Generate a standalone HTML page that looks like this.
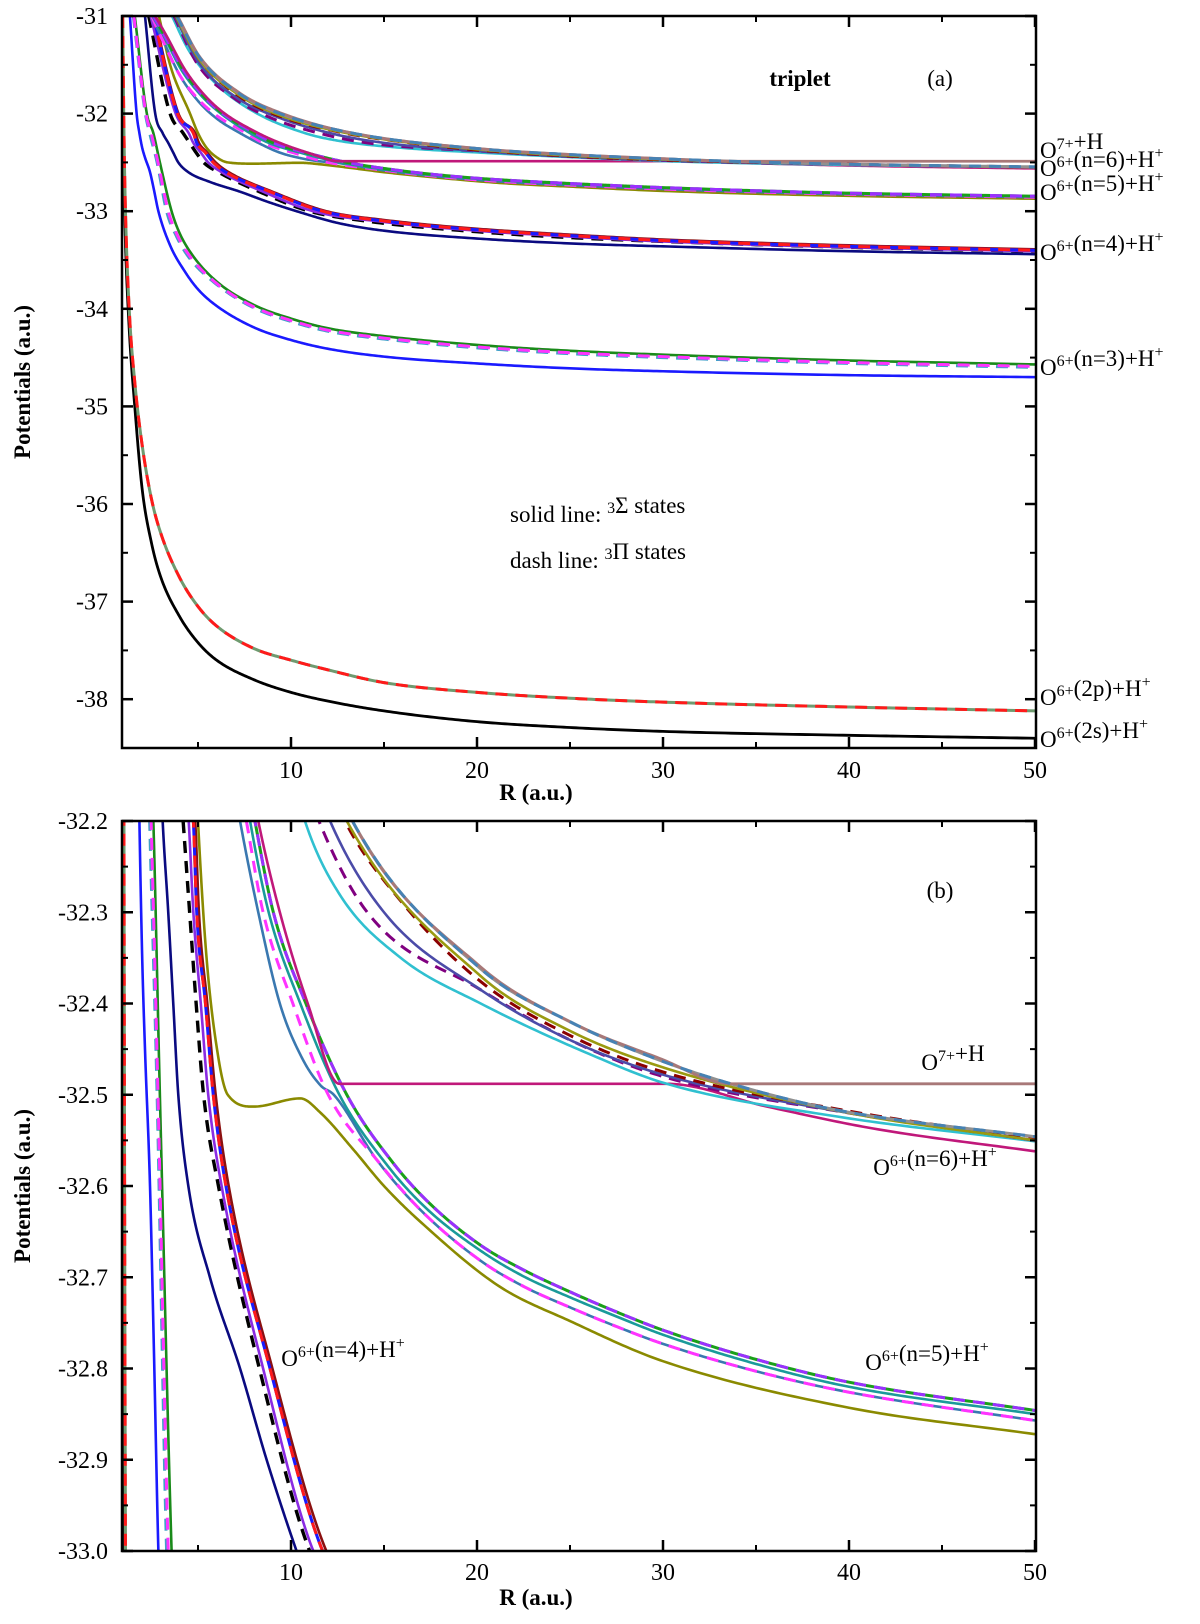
<!DOCTYPE html>
<html><head><meta charset="utf-8">
<style>
html,body{margin:0;padding:0;background:#fff;width:1200px;height:1624px;overflow:hidden;}
svg{display:block;font-family:"Liberation Serif",serif;}
.tick{font-size:24px;fill:#000;}
.lab{font-size:23px;fill:#000;}
.ttl{font-size:23px;font-weight:bold;fill:#000;}
</style></head>
<body>
<svg id="chart" width="1200" height="1624" viewBox="0 0 1200 1624" xmlns="http://www.w3.org/2000/svg">
<defs>
<clipPath id="clipA"><rect x="122" y="16" width="914" height="732"/></clipPath>
<clipPath id="clipB"><rect x="122" y="821" width="914" height="730"/></clipPath>
</defs>
<g id="panelA"></g>
<g id="panelB"></g>
</svg>
<script>
// ---------- data (R in a.u., V in a.u.) ----------
const r2s=[0.93,1.0,1.08,1.3,1.6,2,2.5,3,4,5,6,8,10,12,15,20,25,30,40,50];
const v2s=[-31,-32.5,-33.2,-34.2,-35.0,-35.85,-36.4,-36.75,-37.15,-37.42,-37.6,-37.8,-37.93,-38.02,-38.12,-38.23,-38.29,-38.33,-38.37,-38.40];
const r2p=[0.95,1.02,1.1,1.3,1.6,2,2.5,3,4,5,6,8,10,12,15,20,25,30,40,50];
const v2p=[-31,-32.2,-33.0,-34.0,-34.75,-35.4,-35.95,-36.3,-36.75,-37.05,-37.25,-37.48,-37.6,-37.7,-37.83,-37.93,-37.99,-38.03,-38.08,-38.12];
const rN3Blue=[1.34,1.7,1.85,2.0,2.15,2.42,2.63,2.87,3.5,4.3,5,6,8,10,12,15,20,25,30,40,50];
const vN3Blue=[-31,-32,-32.2,-32.35,-32.45,-32.6,-32.78,-33,-33.35,-33.62,-33.8,-33.97,-34.19,-34.32,-34.41,-34.49,-34.56,-34.61,-34.64,-34.68,-34.70];
const rN3Green=[1.6,2.25,2.6,2.95,3.58,4.0,4.7,6,8,10,12,15,20,25,30,40,50];
const vN3Green=[-31,-32,-32.2,-32.5,-33,-33.22,-33.45,-33.72,-33.96,-34.1,-34.2,-34.28,-34.37,-34.43,-34.47,-34.53,-34.57];
const rN3Mag=[1.55,2.2,2.48,2.85,3.4,3.9,4.6,6,8,10,12,15,20,25,30,40,50];
const vN3Mag=[-31,-32,-32.2,-32.5,-33,-33.25,-33.47,-33.74,-33.98,-34.12,-34.22,-34.3,-34.39,-34.45,-34.49,-34.55,-34.59];
const rN3Cyan=[1.52,2.17,2.4,2.8,3.31,3.85,4.5,6,8,10,12,15,20,25,30,40,50];
const vN3Cyan=[-31,-32,-32.2,-32.5,-33,-33.26,-33.47,-33.75,-33.99,-34.13,-34.23,-34.31,-34.4,-34.46,-34.5,-34.56,-34.6];
const rN4Navy=[2.15,2.7,3.1,3.4,3.67,3.94,4.48,5.64,7.26,8.69,10.3,12.5,15,20,25,30,40,50];
const vN4Navy=[-31,-32,-32.2,-32.3,-32.4,-32.5,-32.6,-32.7,-32.8,-32.9,-33.0,-33.12,-33.2,-33.28,-33.33,-33.36,-33.41,-33.44];
const rN4Black=[2.35,3.5,4.2,4.55,4.9,5.3,6.1,8.3,11.0,14,20,25,30,40,50];
const vN4Black=[-31,-32,-32.2,-32.3,-32.4,-32.5,-32.6,-32.8,-33.0,-33.1,-33.21,-33.27,-33.31,-33.37,-33.41];
const rN4Red=[2.6,3.9,4.75,4.93,5.4,5.82,6.5,8.87,11.7,15,20,25,30,40,50];
const vN4Red=[-31,-32,-32.2,-32.3,-32.4,-32.5,-32.6,-32.8,-33.0,-33.1,-33.19,-33.25,-33.3,-33.36,-33.40];
const rN4Purple=[2.45,3.8,4.5,4.75,5.15,5.55,6.27,8.5,11.2,15,20,25,30,40,50];
const vN4Purple=[-31,-32,-32.2,-32.3,-32.4,-32.5,-32.6,-32.8,-33.0,-33.11,-33.2,-33.26,-33.31,-33.37,-33.41];
const rN4DarkRed=[2.65,3.95,4.85,5.05,5.5,5.95,6.65,9.0,11.9,15,20,25,30,40,50];
const vN4DarkRed=[-31,-32,-32.2,-32.3,-32.4,-32.5,-32.6,-32.8,-33.0,-33.09,-33.18,-33.24,-33.29,-33.35,-33.39];
const rOlive=[2.9,3.5,4.57,5.0,5.46,6.1,6.6,8.0,10.5,11.6,13.35,15,17,21.2,25,30,40,50];
const vOlive=[-31,-31.5,-32,-32.2,-32.35,-32.46,-32.5,-32.513,-32.504,-32.52,-32.56,-32.6,-32.64,-32.71,-32.748,-32.792,-32.843,-32.872];
const rN5Top=[2.6,3.2,4.2,5.2,6.2,8.06,9.05,10.8,13.0,15.5,17.5,20.2,22.5,25,27.5,30,35,40,50];
const vN5Top=[-31,-31.2,-31.55,-31.8,-31.98,-32.2,-32.3,-32.4,-32.5,-32.575,-32.62,-32.665,-32.692,-32.716,-32.738,-32.758,-32.79,-32.815,-32.846];
const rN5Teal=[2.55,3.15,4.1,5.1,6.1,7.8,8.8,10.5,12.6,15.2,17.3,20.2,22.5,25,27.5,30,35,40,50];
const vN5Teal=[-31,-31.2,-31.55,-31.8,-31.98,-32.2,-32.3,-32.4,-32.5,-32.578,-32.625,-32.671,-32.699,-32.722,-32.743,-32.763,-32.795,-32.82,-32.85];
const rN5Steel=[2.45,3.0,4.0,5.0,6.0,7.26,8.24,9.4,10.6,11.6,12.3,14.6,17,20.2,22.5,25,27.5,30,35,40,50];
const vN5Steel=[-31,-31.2,-31.6,-31.87,-32.05,-32.2,-32.3,-32.4,-32.46,-32.49,-32.5,-32.571,-32.627,-32.682,-32.71,-32.733,-32.754,-32.773,-32.803,-32.826,-32.857];
const rN5Mag=[2.5,3.1,4.0,5.0,6.0,7.6,8.5,10.1,12.0,14.6,17,20.2,22.5,25,27.5,30,35,40,50];
const vN5Mag=[-31,-31.25,-31.6,-31.85,-32.02,-32.2,-32.3,-32.4,-32.5,-32.571,-32.627,-32.682,-32.71,-32.733,-32.754,-32.773,-32.803,-32.826,-32.857];
const rPink=[2.7,3.3,4.3,5.3,6.3,8.24,9.4,10.9,12.6,20,30.2,35.6,41.3,50];
const vPink=[-31,-31.2,-31.55,-31.8,-31.98,-32.2,-32.3,-32.4,-32.488,-32.488,-32.488,-32.513,-32.537,-32.562];
const rN6Top=[3.85,5.1,7.25,9.4,13.3,20.2,25,29.8,33.65,39.4,50];
const vN6Top=[-31,-31.43,-31.8,-32.0,-32.2,-32.362,-32.42,-32.462,-32.488,-32.517,-32.546];
const rBrown=[3.9,5.1,7.25,9.4,13.3,20.2,25,29.8,33.65,40,50];
const vBrown=[-31,-31.42,-31.79,-31.99,-32.2,-32.36,-32.42,-32.46,-32.488,-32.488,-32.488];
const rN6Olive=[3.8,5.05,7.2,9.3,13.0,20.2,25,30,40,50];
const vN6Olive=[-31,-31.44,-31.81,-32.01,-32.2,-32.37,-32.43,-32.47,-32.52,-32.55];
const rCyan=[3.6,4.5,6,8,10.75,12.6,15.9,20.2,26,30.2,39.4,50];
const vCyan=[-31,-31.35,-31.7,-31.98,-32.2,-32.28,-32.35,-32.40,-32.455,-32.488,-32.524,-32.551];
const rN6Purple=[3.7,5,7,9,11.5,14.1,20.2,25,30,40,50];
const vN6Purple=[-31,-31.5,-31.85,-32.05,-32.2,-32.3,-32.385,-32.44,-32.48,-32.52,-32.55];
const rSlate=[3.75,5.05,7.1,9.2,12.1,15.0,20.2,25,30,40,50];
const vSlate=[-31,-31.48,-31.84,-32.03,-32.2,-32.3,-32.385,-32.44,-32.478,-32.52,-32.55];
const rN6DarkRed=[3.8,5.1,7.2,9.3,12.9,16,20.2,25,30,40,50];
const vN6DarkRed=[-31,-31.45,-31.82,-32.02,-32.2,-32.29,-32.376,-32.435,-32.475,-32.518,-32.548];

const xTicks=[10,20,30,40,50];
const xMinor=[5,15,25,35,45];
const yTicksA=[-31,-32,-33,-34,-35,-36,-37,-38];
const yTicksB=[-32.2,-32.3,-32.4,-32.5,-32.6,-32.7,-32.8,-32.9,-33.0];

// ---------- styles (separate from data) ----------
const series=[
 {n:'curve-2s',r:r2s,v:v2s,c:'#000000',w:2.8},
 {n:'curve-2p-under',r:r2p,v:v2p,c:'#6f9a6f',w:3},
 {n:'curve-2p',r:r2p,v:v2p,c:'#ff1a1a',w:3,d:'12,8'},
 {n:'curve-n3-blue',r:rN3Blue,v:vN3Blue,c:'#1a1aff',w:2.6},
 {n:'curve-n3-green',r:rN3Green,v:vN3Green,c:'#1a8a1a',w:2.6},
 {n:'curve-n3-cyan-dash',r:rN3Cyan,v:vN3Cyan,c:'#3fa0c8',w:3,d:'12,8'},
 {n:'curve-n3-magenta-dash',r:rN3Mag,v:vN3Mag,c:'#ff33ff',w:3,d:'12,8'},
 {n:'curve-n4-navy',r:rN4Navy,v:vN4Navy,c:'#0a0a80',w:2.6},
 {n:'curve-n4-black-dash',r:rN4Black,v:vN4Black,c:'#000000',w:3.4,d:'12,8'},
 {n:'curve-n4-purple',r:rN4Purple,v:vN4Purple,c:'#8a2be2',w:2.6},
 {n:'curve-n4-darkred',r:rN4DarkRed,v:vN4DarkRed,c:'#8b1010',w:2.6},
 {n:'curve-n4-blue-dash',r:rN4Red,v:vN4Red,c:'#1a1aff',w:3},
 {n:'curve-n4-red-dash',r:rN4Red,v:vN4Red,c:'#ff1a1a',w:3,d:'12,8'},
 {n:'curve-olive',r:rOlive,v:vOlive,c:'#8a8a00',w:2.6},
 {n:'curve-n5-steelblue',r:rN5Steel,v:vN5Steel,c:'#3a78b0',w:2.6},
 {n:'curve-n5-magenta-dash',r:rN5Mag,v:vN5Mag,c:'#ff33ff',w:3,d:'12,8'},
 {n:'curve-n5-teal',r:rN5Teal,v:vN5Teal,c:'#1a9a9a',w:2.6},
 {n:'curve-n5-green',r:rN5Top,v:vN5Top,c:'#1aa01a',w:3},
 {n:'curve-n5-purple-dash',r:rN5Top,v:vN5Top,c:'#9a30ff',w:3,d:'12,8'},
 {n:'curve-pink',r:rPink,v:vPink,c:'#c0187a',w:2.6},
 {n:'curve-n6-cyan',r:rCyan,v:vCyan,c:'#30c0d0',w:2.6},
 {n:'curve-n6-purple-dash',r:rN6Purple,v:vN6Purple,c:'#800080',w:3,d:'12,8'},
 {n:'curve-n6-slateblue',r:rSlate,v:vSlate,c:'#4b4ba8',w:2.6},
 {n:'curve-n6-darkred-dash',r:rN6DarkRed,v:vN6DarkRed,c:'#8b0000',w:3,d:'12,8'},
 {n:'curve-n6-olive',r:rN6Olive,v:vN6Olive,c:'#9a9a10',w:2.6},
 {n:'curve-n6-grey',r:rN6Top,v:vN6Top,c:'#909090',w:3},
 {n:'curve-brown',r:rBrown,v:vBrown,c:'#a87878',w:2.8},
 {n:'curve-n6-steelblue-dash',r:rN6Top,v:vN6Top,c:'#4682b4',w:3,d:'12,8'}
];

const NS='http://www.w3.org/2000/svg';
function mk(tag,parent){const e=document.createElementNS(NS,tag);parent.appendChild(e);return e;}

// axis functions
const X0=122,X1=1036;
function xS(R){return 291+18.6*(R-10);}
function makeY(top,bot,vTop,vBot){return v=>top+(v-vTop)/(vBot-vTop)*(bot-top);}
const panels=[
 {g:'panelA',clip:'clipA',top:16,bot:748,vTop:-31,vBot:-38.5,ticks:yTicksA,minorStep:0.5,fmt:v=>String(v),tl:778,title:800},
 {g:'panelB',clip:'clipB',top:821,bot:1551,vTop:-32.2,vBot:-33.0,ticks:yTicksB,minorStep:0.05,fmt:v=>v.toFixed(1),tl:1580,title:1605}
];

function monotone(xs,ys){
 const n=xs.length,d=[],m=new Array(n);
 for(let i=0;i<n-1;i++)d.push((ys[i+1]-ys[i])/(xs[i+1]-xs[i]));
 m[0]=d[0];m[n-1]=d[n-2];
 for(let i=1;i<n-1;i++){m[i]=(d[i-1]*d[i]<=0)?0:(d[i-1]+d[i])/2;}
 for(let i=0;i<n-1;i++){
  if(d[i]===0){m[i]=0;m[i+1]=0;continue;}
  const a=m[i]/d[i],b=m[i+1]/d[i],s=a*a+b*b;
  if(s>9){const t=3/Math.sqrt(s);m[i]=t*a*d[i];m[i+1]=t*b*d[i];}
 }
 const pts=[];
 for(let i=0;i<n-1;i++){
  const h=xs[i+1]-xs[i];
  for(let k=0;k<30;k++){
   const t=k/30,t2=t*t,t3=t2*t;
   const y=(2*t3-3*t2+1)*ys[i]+(t3-2*t2+t)*h*m[i]+(-2*t3+3*t2)*ys[i+1]+(t3-t2)*h*m[i+1];
   pts.push([xs[i]+t*h,y]);
  }
 }
 pts.push([xs[n-1],ys[n-1]]);
 return pts;
}

panels.forEach((p,pi)=>{
 const g=document.getElementById(p.g);
 const yS=makeY(p.top,p.bot,p.vTop,p.vBot);
 const cg=mk('g',g);cg.setAttribute('clip-path','url(#'+p.clip+')');
 
 
 series.forEach(s=>{
  const pts=monotone(s.r,s.v);
  const dstr=pts.map((q,i)=>{
   const y=Math.min(p.bot+6,Math.max(p.top-6,yS(q[1])));
   return (i?'L':'M')+xS(q[0]).toFixed(2)+','+y.toFixed(2);
  }).join('');
  const path=mk('path',cg);
  path.setAttribute('d',dstr);
  path.setAttribute('fill','none');
  path.setAttribute('stroke',s.c);
  path.setAttribute('stroke-width',s.w);
  if(s.d)path.setAttribute('stroke-dasharray',s.d);
  
  
 });
 const fr=mk('rect',g);
 fr.setAttribute('x',X0);fr.setAttribute('y',p.top);fr.setAttribute('width',X1-X0);fr.setAttribute('height',p.bot-p.top);
 fr.setAttribute('fill','none');fr.setAttribute('stroke','#000');fr.setAttribute('stroke-width','2.5');
 
 
 xTicks.forEach(t=>{
  const x=xS(t);
  [[p.bot,-11],[p.top,11]].forEach(([y0,len])=>{
   const l=mk('line',g);l.setAttribute('x1',x);l.setAttribute('x2',x);l.setAttribute('y1',y0);l.setAttribute('y2',y0+len);
   l.setAttribute('stroke','#000');l.setAttribute('stroke-width','2.5');
   
   
  });
  const tx=mk('text',g);tx.setAttribute('x',x);tx.setAttribute('y',p.tl);tx.setAttribute('text-anchor','middle');tx.setAttribute('class','tick');
  tx.textContent=String(t);
  
  
 });
 xMinor.forEach(t=>{
  const x=xS(t);
  [[p.bot,-6],[p.top,6]].forEach(([y0,len])=>{
   const l=mk('line',g);l.setAttribute('x1',x);l.setAttribute('x2',x);l.setAttribute('y1',y0);l.setAttribute('y2',y0+len);
   l.setAttribute('stroke','#000');l.setAttribute('stroke-width','2');
   
   
  });
 });
 p.ticks.forEach((t,i)=>{
  const y=yS(t);
  [[X0,11],[X1,-11]].forEach(([x0,len])=>{
   const l=mk('line',g);l.setAttribute('x1',x0);l.setAttribute('x2',x0+len);l.setAttribute('y1',y);l.setAttribute('y2',y);
   l.setAttribute('stroke','#000');l.setAttribute('stroke-width','2.5');
   
   
  });
  const tx=mk('text',g);tx.setAttribute('x',108);tx.setAttribute('y',y+8);tx.setAttribute('text-anchor','end');tx.setAttribute('class','tick');
  tx.textContent=p.fmt(t);
  
  
  const ym=yS(t-p.minorStep);
  if(ym<p.bot-1){
   [[X0,6],[X1,-6]].forEach(([x0,len])=>{
    const l=mk('line',g);l.setAttribute('x1',x0);l.setAttribute('x2',x0+len);l.setAttribute('y1',ym);l.setAttribute('y2',ym);
    l.setAttribute('stroke','#000');l.setAttribute('stroke-width','2');
    
    
   });
  }
 });
 const xt=mk('text',g);xt.setAttribute('x',536);xt.setAttribute('y',p.title);xt.setAttribute('text-anchor','middle');xt.setAttribute('class','ttl');
 xt.textContent='R (a.u.)';
 
 
 const cy=(p.top+p.bot)/2;
 const yt=mk('text',g);yt.setAttribute('x',30);yt.setAttribute('y',cy);yt.setAttribute('text-anchor','middle');yt.setAttribute('class','ttl');
 yt.setAttribute('transform','rotate(-90 30 '+cy+')');
 yt.textContent='Potentials (a.u.)';
 
 
});

function label(gid,x,y,html,anchor,name,cls){
 const g=document.getElementById(gid);
 const t=mk('text',g);t.setAttribute('x',x);t.setAttribute('y',y);t.setAttribute('class',cls||'lab');
 t.setAttribute('text-anchor',anchor||'start');
 t.innerHTML=html;
 
 
}
const sup=s=>'<tspan dy="-9" font-size="16">'+s+'</tspan><tspan dy="9"></tspan>';
label('panelA',1040,158,'O'+sup('7+')+'+H','start','label-o7-h');
label('panelA',1040,176,'O'+sup('6+')+'(n=6)+H'+sup('+'),'start','label-n6');
label('panelA',1040,200,'O'+sup('6+')+'(n=5)+H'+sup('+'),'start','label-n5');
label('panelA',1040,260,'O'+sup('6+')+'(n=4)+H'+sup('+'),'start','label-n4');
label('panelA',1040,375,'O'+sup('6+')+'(n=3)+H'+sup('+'),'start','label-n3');
label('panelA',1040,705,'O'+sup('6+')+'(2p)+H'+sup('+'),'start','label-2p');
label('panelA',1040,747,'O'+sup('6+')+'(2s)+H'+sup('+'),'start','label-2s');
label('panelA',800,86,'triplet','middle','triplet-label','ttl');
label('panelA',940,86,'(a)','middle','panel-a-tag');
label('panelA',510,522,'solid line: '+sup('3')+'Σ states','start','legend-solid-line');
label('panelA',510,568,'dash line: '+sup('3')+'Π states','start','legend-dash-line');
label('panelB',940,898,'(b)','middle','panel-b-tag');
label('panelB',953,1070,'O'+sup('7+')+'+H','middle','label-b-o7-h');
label('panelB',935,1175,'O'+sup('6+')+'(n=6)+H'+sup('+'),'middle','label-b-n6');
label('panelB',927,1370,'O'+sup('6+')+'(n=5)+H'+sup('+'),'middle','label-b-n5');
label('panelB',343,1366,'O'+sup('6+')+'(n=4)+H'+sup('+'),'middle','label-b-n4');
</script>
</body></html>
